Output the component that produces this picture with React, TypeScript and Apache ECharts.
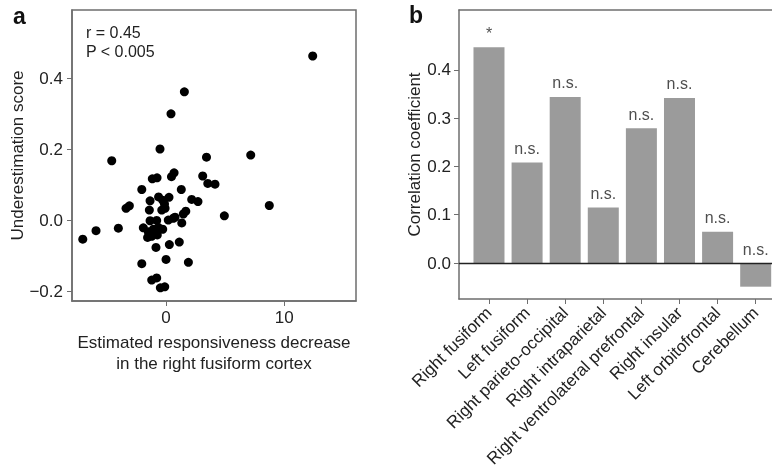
import React, { useEffect, useRef } from "react";
import * as echarts from "echarts";

// Panel a: scatter (x = responsiveness decrease, y = underestimation score)
const scatterX = [
  -7.04, -5.92, -4.59, -4.03, -3.38, -3.10, -2.05, -2.05, -0.51, -1.21,
  -0.79, -0.48, -0.11, 0.00, -0.85, 0.28, 1.12, 1.89, -1.16, -0.76,
  0.46, 0.68, 1.29, 3.10, 3.42, 3.53, 4.14, 2.17, 2.70, 1.67,
  1.46, 1.33, 0.62, 4.93, 7.16, 8.73, 12.40, 0.42, 1.55, -1.35,
  -0.63, -0.28, 0.25, -1.41, -0.36, -0.08, -1.35, -0.79, 0.19, -1.92,
  -1.50, -1.07, -0.28, -1.56, -0.74, -0.13, -1.21, -0.65, 0.76,
];
const scatterY = [
  -0.054, -0.030, 0.167, -0.023, 0.033, 0.040, 0.086, -0.123, 0.200, -0.169,
  -0.163, -0.191, -0.188, -0.111, -0.077, -0.069, -0.062, -0.119, 0.116, 0.119,
  0.122, 0.133, 0.086, 0.124, 0.177, 0.103, 0.101, 0.058, 0.052, 0.025,
  0.017, -0.008, 0.005, 0.012, 0.183, 0.041, 0.462, 0.299, 0.361, 0.054,
  0.065, 0.056, 0.064, 0.028, 0.028, 0.033, -0.002, -0.001, 0.000, -0.022,
  -0.033, -0.026, -0.026, -0.049, -0.042, 0.045, -0.046, -0.021, 0.008,
];
const scatterXTicks = [0, 10];
const scatterYTicks = [-0.2, 0, 0.2, 0.4];

// Panel b: bars
const regions = [
  "Right fusiform",
  "Left fusiform",
  "Right parieto-occipital",
  "Right intraparietal",
  "Right ventrolateral prefrontal",
  "Right insular",
  "Left orbitofrontal",
  "Cerebellum",
];
const correlations = [0.447, 0.208, 0.344, 0.115, 0.279, 0.342, 0.065, -0.049];
const significance = ["*", "n.s.", "n.s.", "n.s.", "n.s.", "n.s.", "n.s.", "n.s."];
const barYTicks = [0, 0.1, 0.2, 0.3, 0.4];

const FONT = "Liberation Sans";
const TXT = "#222";
const AX = "#6e6e6e";

const fmt = (v: number) => (v < 0 ? "\u2212" + Math.abs(v).toFixed(1) : v.toFixed(1));

export default function App() {
  const ref = useRef<HTMLDivElement>(null);
  useEffect(() => {
    if (!ref.current) return;
    const chart = echarts.init(ref.current, null, { renderer: "svg" });
    const idx = regions.map((_, i) => i);
    const axLine = { show: true, onZero: false, lineStyle: { color: AX, width: 1.5 } };
    chart.setOption({
      animation: false,
      textStyle: { fontFamily: FONT },
      grid: [
        { left: 72, top: 10, width: 284, height: 291, show: true, borderColor: AX, borderWidth: 1.5, backgroundColor: "transparent" },
        { left: 459, top: 10, right: 0, bottom: 171 },
      ],
      graphic: [
        { type: "text", left: 13, top: 4, style: { text: "a", font: `bold 23px ${FONT}`, fill: "#111" } },
        { type: "text", left: 409, top: 3, style: { text: "b", font: `bold 23px ${FONT}`, fill: "#111" } },
        { type: "text", left: 86, top: 24, style: { text: "r = 0.45", font: `16px ${FONT}`, fill: TXT } },
        { type: "text", left: 86, top: 43, style: { text: "P < 0.005", font: `16px ${FONT}`, fill: TXT } },
      ],
      xAxis: [
        {
          gridIndex: 0, type: "value", min: -7.95, max: 16.06,
          splitLine: { show: false },
          axisLine: axLine,
          axisTick: { show: true, length: 5, customValues: scatterXTicks, lineStyle: { color: AX } },
          axisLabel: { customValues: scatterXTicks, fontSize: 17, color: TXT, margin: 8 },
          name: "Estimated responsiveness decrease\nin the right fusiform cortex",
          nameLocation: "middle", nameGap: 31,
          nameTextStyle: { fontSize: 17, color: TXT, lineHeight: 21, verticalAlign: "top" },
        },
        {
          gridIndex: 1, type: "value", min: -0.787, max: 7.428,
          splitLine: { show: false },
          axisLine: axLine,
          axisTick: { show: true, length: 5, customValues: idx, lineStyle: { color: AX } },
          axisLabel: {
            customValues: idx, rotate: 45, fontSize: 17, color: TXT, margin: 11,
            formatter: (v: number) => regions[Math.round(v)] ?? "",
          },
        },
        {
          gridIndex: 1, type: "value", position: "top", min: -0.787, max: 7.428,
          splitLine: { show: false },
          axisLine: axLine,
          axisTick: { show: false }, axisLabel: { show: false },
        },
      ],
      yAxis: [
        {
          gridIndex: 0, type: "value", min: -0.228, max: 0.5915,
          splitLine: { show: false },
          axisLine: axLine,
          axisTick: { show: true, length: 5, customValues: scatterYTicks, lineStyle: { color: AX } },
          axisLabel: { customValues: scatterYTicks, fontSize: 17, color: TXT, margin: 9, formatter: fmt },
          name: "Underestimation score", nameLocation: "middle", nameGap: 46,
          nameTextStyle: { fontSize: 17, color: TXT },
        },
        {
          gridIndex: 1, type: "value", min: -0.0745, max: 0.524,
          splitLine: { show: false },
          axisLine: axLine,
          axisTick: { show: true, length: 5, customValues: barYTicks, lineStyle: { color: AX } },
          axisLabel: { customValues: barYTicks, fontSize: 17, color: TXT, margin: 8, formatter: fmt },
          name: "Correlation coefficient", nameLocation: "middle", nameGap: 36,
          nameTextStyle: { fontSize: 17, color: TXT },
        },
      ],
      series: [
        {
          type: "scatter", xAxisIndex: 0, yAxisIndex: 0,
          data: scatterX.map((x, i) => [x, scatterY[i]]),
          symbolSize: 9, itemStyle: { color: "#000", opacity: 1 },
        },
        {
          type: "bar", xAxisIndex: 1, yAxisIndex: 1,
          data: correlations.map((v, i) => [i, v]),
          barWidth: 31, itemStyle: { color: "#9b9b9b" },
          markLine: {
            silent: true, symbol: "none", label: { show: false },
            lineStyle: { color: "#222", width: 1.3, type: "solid" },
            data: [{ yAxis: 0 }],
          },
        },
        {
          type: "scatter", xAxisIndex: 1, yAxisIndex: 1,
          data: correlations.map((v, i) => [i, Math.max(v, 0)]),
          symbolSize: 0,
          label: {
            show: true, position: "top", distance: 6, fontSize: 16, color: TXT,
            formatter: (p: any) => significance[p.dataIndex],
          },
        },
      ],
    });
    return () => chart.dispose();
  }, []);
  return <div ref={ref} style={{ position: "fixed", left: 0, top: 0, width: 772, height: 470 }} />;
}
